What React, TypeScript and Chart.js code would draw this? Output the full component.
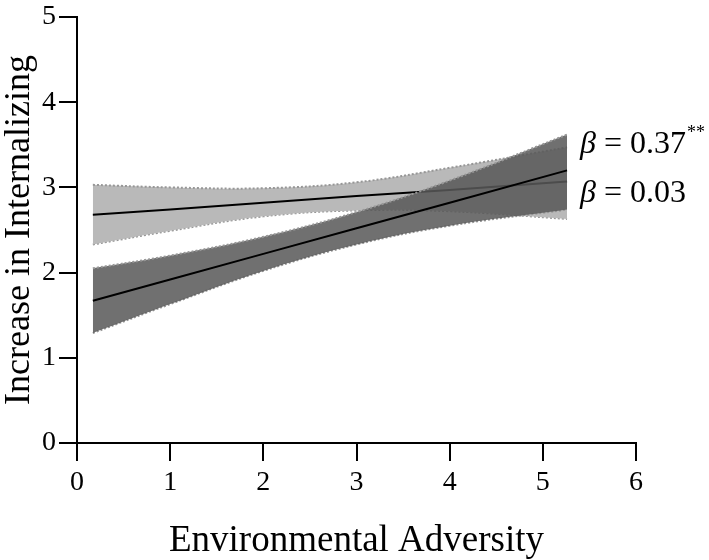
import React, { useEffect, useRef } from 'react';
import { Chart, registerables } from 'chart.js';

Chart.register(...registerables);

// Environmental adversity values at which the fits and bands were read
const adversity = [0.17, 1, 2, 3, 4, 5.26];

// Group with beta = 0.37** (dark band)
const darkFit = [1.67, 1.92, 2.22, 2.52, 2.82, 3.2];
const darkUpper = [2.05, 2.2, 2.42, 2.71, 3.08, 3.62];
const darkLower = [1.29, 1.63, 2.02, 2.33, 2.55, 2.74];

// Group with beta = 0.03 (light band)
const lightFit = [2.68, 2.74, 2.82, 2.9, 2.97, 3.07];
const lightUpper = [3.03, 3.0, 2.99, 3.06, 3.23, 3.47];
const lightLower = [2.33, 2.49, 2.66, 2.73, 2.72, 2.63];

const xTicks = [0, 1, 2, 3, 4, 5, 6];
const yTicks = [0, 1, 2, 3, 4, 5];

const betaValues = ['0.37', '0.03'];
const betaStars = ['**', ''];
const betaAnchorX = [5.4, 5.4];
const betaAnchorY = [3.5, 2.93];

const SERIF = '"Liberation Serif", "Times New Roman", serif';

const pts = (ys: number[]) => adversity.map((x, i) => ({ x, y: ys[i] }));

const betaPlugin = {
  id: 'betaLabels',
  afterDraw(chart: any) {
    const { ctx, scales } = chart;
    ctx.save();
    ctx.fillStyle = '#000';
    ctx.textBaseline = 'middle';
    ctx.textAlign = 'left';
    betaValues.forEach((v, i) => {
      const x = scales.x.getPixelForValue(betaAnchorX[i]);
      const y = scales.y.getPixelForValue(betaAnchorY[i]);
      ctx.font = `italic 32px ${SERIF}`;
      ctx.fillText('β', x, y);
      let cx = x + ctx.measureText('β').width;
      ctx.font = `32px ${SERIF}`;
      const rest = ' = ' + v;
      ctx.fillText(rest, cx, y);
      cx += ctx.measureText(rest).width;
      if (betaStars[i]) {
        ctx.font = `18px ${SERIF}`;
        ctx.fillText(betaStars[i], cx + 1, y - 12);
      }
    });
    ctx.restore();
  },
};

export default function App() {
  const ref = useRef<HTMLCanvasElement | null>(null);

  useEffect(() => {
    if (!ref.current) return;
    const edge = { borderColor: '#979797', borderWidth: 2, borderDash: [2, 2], pointRadius: 0, tension: 0.4 };
    const chart = new Chart(ref.current, {
      type: 'line',
      data: {
        datasets: [
          { data: pts(darkFit), borderColor: '#000', borderWidth: 2, pointRadius: 0, tension: 0, fill: false, order: 0 },
          { data: pts(darkUpper), ...edge, fill: '+1', backgroundColor: 'rgba(88,88,88,0.86)', order: 1 },
          { data: pts(darkLower), ...edge, fill: false, order: 2 },
          { data: pts(lightFit), borderColor: '#000', borderWidth: 2, pointRadius: 0, tension: 0, fill: false, order: 3 },
          { data: pts(lightUpper), ...edge, fill: '+1', backgroundColor: '#b9b9b9', order: 4 },
          { data: pts(lightLower), ...edge, fill: false, order: 5 },
        ],
      },
      options: {
        animation: false,
        responsive: true,
        maintainAspectRatio: false,
        layout: { padding: { top: 14, right: 73, left: 0, bottom: 0 } },
        plugins: { legend: { display: false }, tooltip: { enabled: false } },
        scales: {
          x: {
            type: 'linear',
            min: 0,
            max: 6,
            afterBuildTicks: (s: any) => { s.ticks = xTicks.map((v) => ({ value: v })); },
            afterFit: (s: any) => { s.height = 117; },
            ticks: { color: '#000', font: { family: SERIF, size: 28, lineHeight: 1 }, padding: 8 },
            grid: { drawOnChartArea: false, drawTicks: true, tickLength: 18, color: '#000', lineWidth: 2 },
            border: { color: '#000', width: 2 },
            title: {
              display: true,
              text: 'Environmental Adversity',
              color: '#000',
              font: { family: SERIF, size: 37, lineHeight: 1 },
              padding: { top: 0, bottom: 0 },
            },
          },
          y: {
            type: 'linear',
            min: 0,
            max: 5,
            afterBuildTicks: (s: any) => { s.ticks = yTicks.map((v) => ({ value: v })); },
            afterFit: (s: any) => { s.width = 77; },
            ticks: { color: '#000', font: { family: SERIF, size: 28, lineHeight: 1 }, padding: 3 },
            grid: { drawOnChartArea: false, drawTicks: true, tickLength: 18, color: '#000', lineWidth: 2 },
            border: { color: '#000', width: 2 },
            title: {
              display: true,
              text: 'Increase in Internalizing',
              color: '#000',
              font: { family: SERIF, size: 36, lineHeight: 1 },
              padding: { top: 2, bottom: 0 },
            },
          },
        },
      },
      plugins: [betaPlugin],
    } as any);
    return () => chart.destroy();
  }, []);

  return (
    <div style={{ position: 'absolute', left: 0, top: 0, width: 709, height: 560, background: '#fff' }}>
      <canvas ref={ref} />
    </div>
  );
}
